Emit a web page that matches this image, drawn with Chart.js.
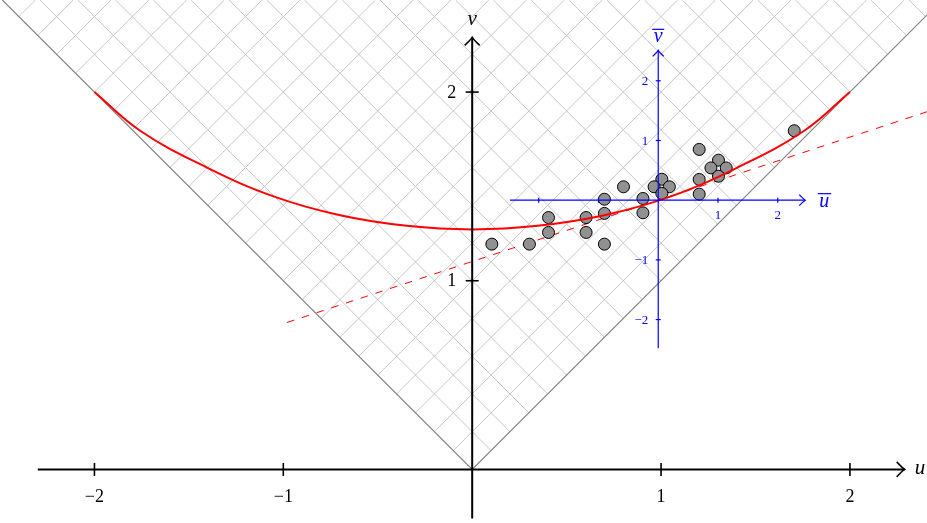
<!DOCTYPE html>
<html>
<head>
<meta charset="utf-8">
<script src="https://cdn.jsdelivr.net/npm/chart.js@4/dist/chart.umd.min.js"></script>
<style>
  html, body { margin: 0; padding: 0; background: #fff; overflow: hidden; }
  #wrap { width: 927px; height: 523px; position: relative; }
  canvas { display: block; }
</style>
</head>
<body>
<div id="wrap"><canvas id="c" width="927" height="523"></canvas></div>
<script>
// Visible window of the (u, v) plane
const uRange = [-2.5, 2.408];
const vRange = [-0.284, 2.488];

// Main axes: extent and ticks
const axisU = [-2.3, 2.29];
const axisV = [-0.26, 2.29];
const uTicks = [-2, -1, 1, 2];
const uTickLabels = ['−2', '−1', '1', '2'];
const vTicks = [1, 2];
const vTickLabels = ['1', '2'];

// Observed points
const obsU = [0.104, 0.303, 0.404, 0.404, 0.603, 0.603, 0.700, 0.700, 0.700, 0.801, 0.904, 0.904,
              1.004, 0.963, 1.044, 1.004, 1.202, 1.202, 1.202, 1.304, 1.264, 1.345, 1.304, 1.705];
const obsV = [1.194, 1.194, 1.335, 1.256, 1.335, 1.256, 1.432, 1.357, 1.194, 1.498, 1.436, 1.360,
              1.538, 1.498, 1.498, 1.463, 1.696, 1.537, 1.459, 1.639, 1.598, 1.598, 1.554, 1.795];

// Curve through the cone
const curveU = [-2.0, -1.758, -1.404, -1.052, -0.699, -0.346, 0.0, 0.346, 0.699, 1.052, 1.404, 1.758, 2.0];
const curveV = [2.0, 1.795, 1.600, 1.447, 1.347, 1.291, 1.272, 1.291, 1.347, 1.447, 1.600, 1.795, 2.0];

// Tangent line through the local origin
const tangentU = [-0.98, 2.5];
const tangentV = [0.779, 1.926];

// Local frame (ū, v̄): origin and unit length in (u, v)
const frameOrigin = [0.985, 1.427];
const frameUnit = 0.3164;
const frameAxisU = [-2.48, 2.46];
const frameAxisV = [-2.48, 2.51];
const frameTicks = [-2, -1, 1, 2];
const frameTickLabelsU = ['', '', '1', '2'];
const frameTickLabelsV = ['−2', '−1', '1', '2'];

// Spacing of the light-cone lattice (v ± u = k·step)
const latticeStep = 0.2;

const BLUE = 'rgb(0,0,255)';
const SERIF = '"Liberation Serif", "DejaVu Serif", serif';

function arrowHead(ctx, x, y, dx, dy, len, half) {
  const nx = -dy, ny = dx;
  ctx.beginPath();
  ctx.moveTo(x - dx * len + nx * half, y - dy * len + ny * half);
  ctx.quadraticCurveTo(x - dx * len * 0.25 + nx * half * 0.15, y - dy * len * 0.25 + ny * half * 0.15, x, y);
  ctx.quadraticCurveTo(x - dx * len * 0.25 - nx * half * 0.15, y - dy * len * 0.25 - ny * half * 0.15,
                       x - dx * len - nx * half, y - dy * len - ny * half);
  ctx.stroke();
}

const backdrop = {
  id: 'backdrop',
  beforeDatasetsDraw(chart) {
    const { ctx, scales: { x, y } } = chart;
    const P = (u, v) => [x.getPixelForValue(u), y.getPixelForValue(v)];
    const vTop = vRange[1];
    ctx.save();
    ctx.fillStyle = '#fff';
    ctx.fillRect(0, 0, chart.width, chart.height);

    // lattice inside the cone v >= |u|
    ctx.strokeStyle = 'rgb(198,198,198)';
    ctx.lineWidth = 1;
    for (let k = 1; k * latticeStep <= 2 * vTop + 1e-9; k++) {
      const c = k * latticeStep;
      // v - u = c, starting on v = -u
      let a = P(-c / 2, c / 2), b = P(vTop - c, vTop);
      ctx.beginPath(); ctx.moveTo(a[0], a[1]); ctx.lineTo(b[0], b[1]); ctx.stroke();
      // v + u = c, starting on v = u
      a = P(c / 2, c / 2); b = P(c - vTop, vTop);
      ctx.beginPath(); ctx.moveTo(a[0], a[1]); ctx.lineTo(b[0], b[1]); ctx.stroke();
    }

    // light cone
    ctx.strokeStyle = 'rgb(128,128,128)';
    ctx.lineWidth = 1.1;
    const o = P(0, 0), l = P(-vTop, vTop), r = P(vTop, vTop);
    ctx.beginPath(); ctx.moveTo(l[0], l[1]); ctx.lineTo(o[0], o[1]); ctx.lineTo(r[0], r[1]); ctx.stroke();
    ctx.restore();
  }
};

const overlay = {
  id: 'overlay',
  afterDatasetsDraw(chart) {
    const { ctx, scales: { x, y } } = chart;
    const P = (u, v) => [x.getPixelForValue(u), y.getPixelForValue(v)];
    const F = (a, b) => P(frameOrigin[0] + a * frameUnit, frameOrigin[1] + b * frameUnit);
    ctx.save();
    ctx.lineCap = 'butt';

    // local frame
    ctx.strokeStyle = BLUE; ctx.fillStyle = BLUE; ctx.lineWidth = 1.2;
    let a = F(frameAxisU[0], 0), b = F(frameAxisU[1], 0);
    ctx.beginPath(); ctx.moveTo(a[0], a[1]); ctx.lineTo(b[0], b[1]); ctx.stroke();
    arrowHead(ctx, b[0], b[1], 1, 0, 6, 5.5);
    a = F(0, frameAxisV[0]); b = F(0, frameAxisV[1]);
    ctx.beginPath(); ctx.moveTo(a[0], a[1]); ctx.lineTo(b[0], b[1]); ctx.stroke();
    arrowHead(ctx, b[0], b[1], 0, -1, 6, 5.5);
    ctx.font = '13px ' + SERIF;
    frameTicks.forEach((t, i) => {
      let p = F(t, 0);
      ctx.beginPath(); ctx.moveTo(p[0], p[1] - 2.5); ctx.lineTo(p[0], p[1] + 2.5); ctx.stroke();
      if (frameTickLabelsU[i]) {
        ctx.textAlign = 'center'; ctx.textBaseline = 'middle';
        ctx.fillText(frameTickLabelsU[i], p[0], p[1] + 15);
      }
      p = F(0, t);
      ctx.beginPath(); ctx.moveTo(p[0] - 2.5, p[1]); ctx.lineTo(p[0] + 2.5, p[1]); ctx.stroke();
      if (frameTickLabelsV[i]) {
        ctx.textAlign = 'right'; ctx.textBaseline = 'middle';
        ctx.fillText(frameTickLabelsV[i], p[0] - 10, p[1] + 1);
      }
    });
    ctx.font = 'italic 20px ' + SERIF;
    ctx.textAlign = 'center'; ctx.textBaseline = 'alphabetic';
    let q = F(frameAxisU[1], 0);
    ctx.fillText('u', q[0] + 19, q[1] + 7);
    ctx.beginPath(); ctx.moveTo(q[0] + 12.5, q[1] - 6.5); ctx.lineTo(q[0] + 26, q[1] - 6.5); ctx.stroke();
    q = F(0, frameAxisV[1]);
    ctx.fillText('v', q[0], q[1] - 8);
    ctx.beginPath(); ctx.moveTo(q[0] - 6, q[1] - 21); ctx.lineTo(q[0] + 6, q[1] - 21); ctx.stroke();

    // main axes
    ctx.strokeStyle = '#000'; ctx.fillStyle = '#000'; ctx.lineWidth = 2;
    a = P(axisU[0], 0); b = P(axisU[1], 0);
    ctx.beginPath(); ctx.moveTo(a[0], a[1]); ctx.lineTo(b[0], b[1]); ctx.stroke();
    ctx.lineWidth = 1.6;
    arrowHead(ctx, b[0], b[1], 1, 0, 8, 7.5);
    ctx.lineWidth = 2;
    a = P(0, axisV[0]); b = P(0, axisV[1]);
    ctx.beginPath(); ctx.moveTo(a[0], a[1]); ctx.lineTo(b[0], b[1]); ctx.stroke();
    ctx.lineWidth = 1.6;
    arrowHead(ctx, b[0], b[1], 0, -1, 8, 7.5);
    ctx.font = '18px ' + SERIF;
    uTicks.forEach((t, i) => {
      const p = P(t, 0);
      ctx.beginPath(); ctx.moveTo(p[0], p[1] - 6.5); ctx.lineTo(p[0], p[1] + 6.5); ctx.stroke();
      ctx.textAlign = 'center'; ctx.textBaseline = 'middle';
      ctx.fillText(uTickLabels[i], p[0], p[1] + 28);
    });
    vTicks.forEach((t, i) => {
      const p = P(0, t);
      ctx.beginPath(); ctx.moveTo(p[0] - 6.5, p[1]); ctx.lineTo(p[0] + 6.5, p[1]); ctx.stroke();
      ctx.textAlign = 'right'; ctx.textBaseline = 'middle';
      ctx.fillText(vTickLabels[i], p[0] - 16, p[1] + 1);
    });
    ctx.font = 'italic 21px ' + SERIF;
    ctx.textAlign = 'left'; ctx.textBaseline = 'middle';
    q = P(axisU[1], 0);
    ctx.fillText('u', q[0] + 10, q[1] - 1);
    q = P(0, axisV[1]);
    ctx.textAlign = 'center'; ctx.textBaseline = 'alphabetic';
    ctx.fillText('v', q[0], q[1] - 12);
    ctx.restore();
  }
};

const toXY = (us, vs) => us.map((u, i) => ({ x: u, y: vs[i] }));

new Chart(document.getElementById('c'), {
  type: 'scatter',
  data: {
    datasets: [
      {
        label: 'curve',
        type: 'line',
        data: toXY(curveU, curveV),
        borderColor: 'rgb(255,0,0)',
        borderWidth: 2,
        pointRadius: 0,
        fill: false,
        tension: 0.4,
        order: 0
      },
      {
        label: 'observations',
        data: toXY(obsU, obsV),
        backgroundColor: 'rgb(145,145,145)',
        borderColor: '#000',
        borderWidth: 1,
        pointRadius: 6,
        pointHoverRadius: 6,
        order: 1
      },
      {
        label: 'tangent',
        type: 'line',
        data: toXY(tangentU, tangentV),
        borderColor: 'rgb(255,0,0)',
        borderWidth: 1,
        borderDash: [7.5, 8],
        pointRadius: 0,
        fill: false,
        order: 2
      }
    ]
  },
  options: {
    responsive: false,
    animation: false,
    devicePixelRatio: 1,
    layout: { padding: 0, autoPadding: false },
    plugins: { legend: { display: false }, tooltip: { enabled: false } },
    events: [],
    scales: {
      x: { type: 'linear', min: uRange[0], max: uRange[1], display: false },
      y: { type: 'linear', min: vRange[0], max: vRange[1], display: false }
    }
  },
  plugins: [backdrop, overlay]
});
</script>
</body>
</html>
